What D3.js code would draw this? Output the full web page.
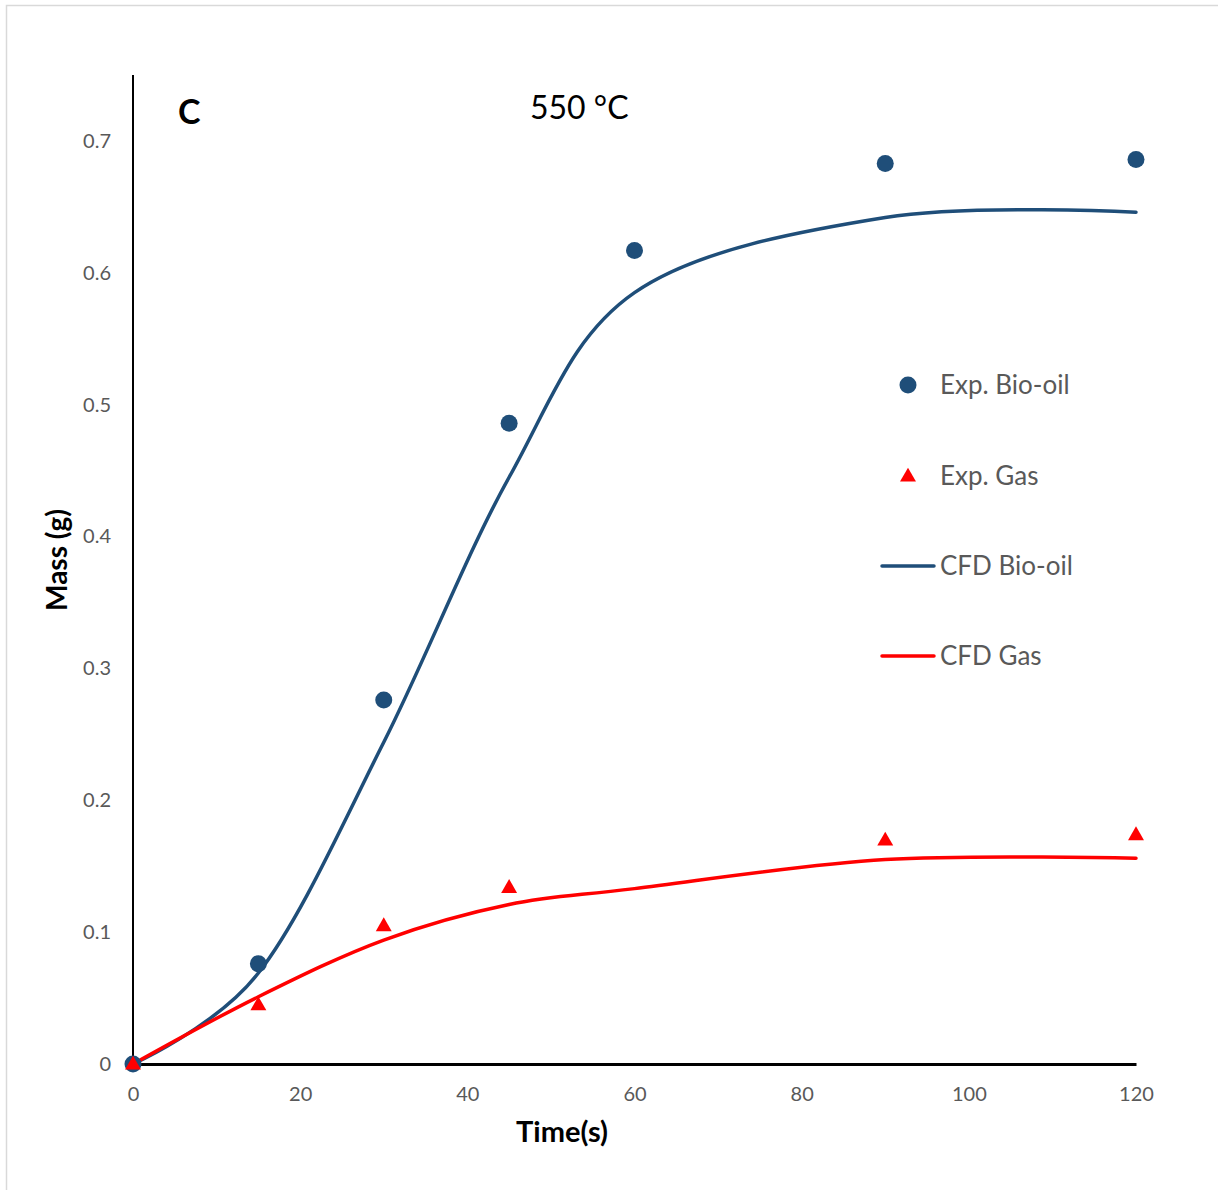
<!DOCTYPE html>
<html>
<head>
<meta charset="utf-8">
<script src="https://cdn.jsdelivr.net/npm/d3@7"></script>
<style>
  body { margin: 0; background: #fff; }
  text { font-family: Lato, "Open Sans", sans-serif; }
</style>
</head>
<body>
<script>
'use strict';

// experimental points
const expTime = [0, 15, 30, 45, 60, 90, 120];
const expBioOil = [0, 0.076, 0.276, 0.486, 0.617, 0.683, 0.686];
const expGas = [0, 0.045, 0.105, 0.134, 0.170, 0.174];
const expGasTime = [0, 15, 30, 45, 90, 120];

// CFD results
const cfdTime = [0, 15, 30, 45, 60, 90, 120];
const cfdBioOil = [0, 0.069, 0.244, 0.445, 0.585, 0.642, 0.646];
const cfdGas = [0, 0.051, 0.094, 0.121, 0.133, 0.155, 0.156];

const xTicks = [0, 20, 40, 60, 80, 100, 120];
const yTicks = [0, 0.1, 0.2, 0.3, 0.4, 0.5, 0.6, 0.7];

const blue = '#1f4e79';
const red = '#ff0000';
const grey = '#595959';

let svg = d3.select('body').append('svg')
  .attr('width', 1218)
  .attr('height', 1190);

// chart frame
svg.append('rect')
  .attr('x', 6.5).attr('y', 5.5)
  .attr('width', 1230).attr('height', 1200)
  .style('fill', 'none')
  .style('stroke', '#d9d9d9')
  .style('stroke-width', 1.5);

let x = d3.scaleLinear().domain([0, 120]).range([133, 1136]);
let y = d3.scaleLinear().domain([0, 0.7]).range([1064, 141]);

// x axis
let xAxis = svg.append('g')
  .attr('transform', 'translate(0,' + y(0) + ')')
  .call(d3.axisBottom(x).tickValues(xTicks).tickSize(0).tickPadding(23));
xAxis.select('.domain').attr('stroke', '#000').attr('stroke-width', 3);
xAxis.selectAll('text').style('font-size', '20px').style('fill', grey)
  .style('font-family', 'Lato, sans-serif');

// y axis
let yAxis = svg.append('g')
  .attr('transform', 'translate(' + x(0) + ',0)')
  .call(d3.axisLeft(y).tickValues(yTicks).tickFormat(d => d === 0 ? '0' : d3.format('.1f')(d))
    .tickSize(0).tickPadding(22));
yAxis.select('.domain').remove();
yAxis.selectAll('text').style('font-size', '20px').style('fill', grey)
  .style('font-family', 'Lato, sans-serif');
svg.append('line')
  .attr('x1', x(0)).attr('x2', x(0))
  .attr('y1', y(0)).attr('y2', y(0.75))
  .style('stroke', '#000').style('stroke-width', 2);

// CFD curves
let line = d3.line()
  .x(d => x(d[0]))
  .y(d => y(d[1]))
  .curve(d3.curveCardinal.tension(0));

svg.append('path')
  .datum(cfdTime.map((t, i) => [t, cfdBioOil[i]]))
  .attr('d', line)
  .style('fill', 'none').style('stroke', blue)
  .style('stroke-width', 3.5).style('stroke-linecap', 'round');

svg.append('path')
  .datum(cfdTime.map((t, i) => [t, cfdGas[i]]))
  .attr('d', line)
  .style('fill', 'none').style('stroke', red)
  .style('stroke-width', 3.5).style('stroke-linecap', 'round');

// experimental markers
svg.selectAll('.bio')
  .data(expTime.map((t, i) => [t, expBioOil[i]]))
  .enter().append('circle')
  .attr('class', 'bio')
  .attr('cx', d => x(d[0]))
  .attr('cy', d => y(d[1]))
  .attr('r', 8.5)
  .style('fill', blue);

let tri = d3.symbol().type(d3.symbolTriangle).size(110);
svg.selectAll('.gas')
  .data(expGasTime.map((t, i) => [t, expGas[i]]))
  .enter().append('path')
  .attr('class', 'gas')
  .attr('d', tri)
  .attr('transform', d => 'translate(' + x(d[0]) + ',' + (y(d[1]) + 1) + ')')
  .style('fill', red);

// labels
svg.append('text')
  .attr('x', 178).attr('y', 124)
  .style('font-size', '34px').style('font-weight', 'bold')
  .text('C');

svg.append('text')
  .attr('x', 530).attr('y', 119)
  .style('font-size', '32px').style('fill', '#000')
  .text('550 °C');

svg.append('text')
  .attr('x', 562).attr('y', 1142)
  .attr('text-anchor', 'middle')
  .style('font-size', '29px').style('font-weight', 'bold')
  .text('Time(s)');

svg.append('text')
  .attr('transform', 'translate(67,560)rotate(-90)')
  .attr('text-anchor', 'middle')
  .style('font-size', '28px').style('font-weight', 'bold')
  .text('Mass (g)');

// legend
const legendNames = ['Exp. Bio-oil', 'Exp. Gas', 'CFD Bio-oil', 'CFD Gas'];
const legendY = [385, 476, 566, 656];

svg.append('circle')
  .attr('cx', 908).attr('cy', legendY[0]).attr('r', 8.5)
  .style('fill', blue);
svg.append('path')
  .attr('d', tri)
  .attr('transform', 'translate(908,' + (legendY[1] + 1) + ')')
  .style('fill', red);
svg.append('line')
  .attr('x1', 882).attr('x2', 934)
  .attr('y1', legendY[2]).attr('y2', legendY[2])
  .style('stroke', blue).style('stroke-width', 3.5).style('stroke-linecap', 'round');
svg.append('line')
  .attr('x1', 882).attr('x2', 934)
  .attr('y1', legendY[3]).attr('y2', legendY[3])
  .style('stroke', red).style('stroke-width', 3.5).style('stroke-linecap', 'round');

svg.selectAll('.legendText')
  .data(legendNames)
  .enter().append('text')
  .attr('class', 'legendText')
  .attr('x', 940)
  .attr('y', (d, i) => legendY[i])
  .attr('dy', '0.35em')
  .style('font-size', '26px')
  .style('fill', grey)
  .text(d => d);
</script>
</body>
</html>
